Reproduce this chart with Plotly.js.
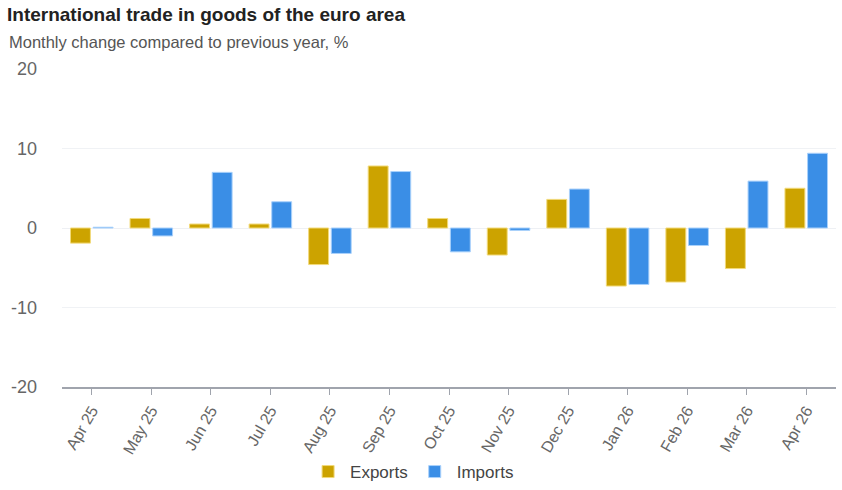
<!DOCTYPE html>
<html>
<head>
<meta charset="utf-8">
<script src="https://cdn.plot.ly/plotly-3.0.1.min.js"></script>
<style>html,body{margin:0;padding:0;background:#fff;}#chart{width:842px;height:490px;}</style>
</head>
<body>
<div id="chart"></div>
<script>
const months = ["Apr 25","May 25","Jun 25","Jul 25","Aug 25","Sep 25","Oct 25","Nov 25","Dec 25","Jan 26","Feb 26","Mar 26","Apr 26"];
const exportsVals = [-1.9, 1.2, 0.5, 0.5, -4.6, 7.8, 1.2, -3.4, 3.6, -7.3, -6.8, -5.1, 5.0];
const importsVals = [0.1, -1.0, 7.0, 3.3, -3.2, 7.1, -3.0, -0.3, 4.9, -7.1, -2.2, 5.9, 9.4];
const yTicks = [-20, -10, 0, 10, 20];

const FONT = "Liberation Sans, Arial, sans-serif";

const data = [
  {type:"bar", name:"Exports", x:months, y:exportsVals,
   marker:{color:"#cca300", line:{color:"#f2da7a", width:1}}},
  {type:"bar", name:"Imports", x:months, y:importsVals,
   marker:{color:"#3a8ee6", line:{color:"#a9d1fb", width:1}}}
];

const layout = {
  width:842, height:490,
  margin:{l:62, r:6, t:69, b:103},
  paper_bgcolor:"#fff", plot_bgcolor:"#fff",
  font:{family:FONT, color:"#666"},
  title:{text:"<b>International trade in goods of the euro area</b>",
         font:{family:FONT, size:19, color:"#222"},
         xref:"container", yref:"container", x:7/842, xanchor:"left",
         y:1-14/490, yanchor:"middle"},
  annotations:[{text:"Monthly change compared to previous year, %", xref:"paper", yref:"paper",
    x:-55/774, xanchor:"left", y:1+(69-42)/318, yanchor:"middle", showarrow:false,
    font:{family:FONT, size:16.5, color:"#555"}}],
  barmode:"group", bargap:0.24, bargroupgap:0.12,
  xaxis:{type:"category", tickangle:-60, tickfont:{size:16, color:"#666"},
         showline:true, linecolor:"#a0a4ad", linewidth:2, ticks:"outside", ticklen:6,
         tickcolor:"#a0a4ad", showgrid:false, zeroline:false},
  yaxis:{range:[-20,20], tickvals:yTicks, ticktext:yTicks.map(String),
         tickfont:{size:18, color:"#666"}, showgrid:true, gridcolor:"#f0f2f5",
         zeroline:true, zerolinecolor:"#eef0f4", zerolinewidth:1, showline:false,
         ticks:"", ticklabelstandoff:24},
  showlegend:true,
  legend:{orientation:"h", x:0.49, xanchor:"center", xref:"container",
          y:18/490, yref:"container", yanchor:"middle", itemwidth:34,
          font:{family:FONT, size:17, color:"#444"}}
};

Plotly.newPlot("chart", data, layout, {displayModeBar:false, staticPlot:true});
</script>
</body>
</html>
